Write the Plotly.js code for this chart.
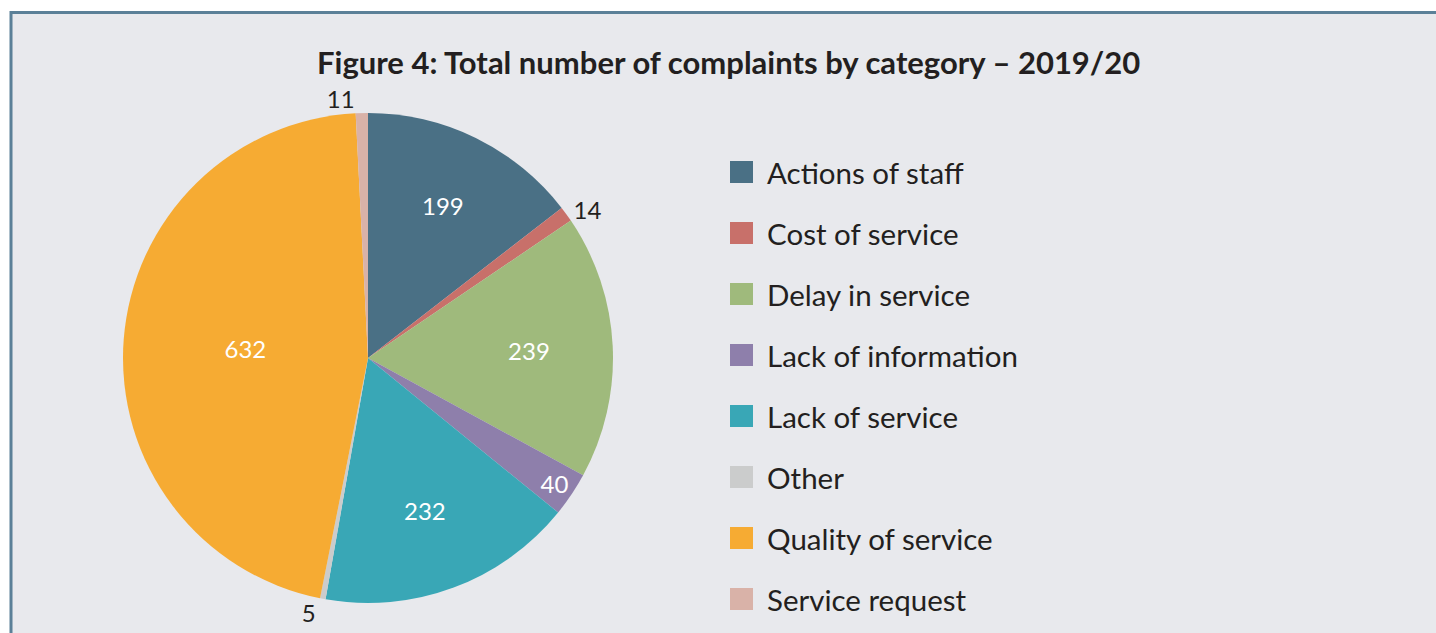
<!DOCTYPE html>
<html>
<head>
<meta charset="utf-8">
<script src="https://cdn.plot.ly/plotly-3.0.1.min.js"></script>
<style>html,body{margin:0;padding:0;background:#fff;}#chart{width:1436px;height:633px;}</style>
</head>
<body>
<div id="chart"></div>
<script>
const categories = ["Actions of staff","Cost of service","Delay in service","Lack of information","Lack of service","Other","Quality of service","Service request"];
const complaints = [199, 14, 239, 40, 232, 5, 632, 11];
const sliceColors = ["#4a7085","#c8706a","#9fba7c","#8e7fab","#39a7b6","#cbcccc","#f6ab33","#d9b2a8"];
const labelPlacement = ["inside","outside","inside","inside","inside","outside","inside","outside"];
const chartTitle = "Figure 4: Total number of complaints by category \u2013 2019/20";

const W = 1436, H = 633;
const px = x => x / W;
const py = y => 1 - y / H;
const FONT = "Lato, 'Open Sans', sans-serif";

const cx = 368, cy = 358, r = 245;

const trace = {
  type: "pie",
  labels: categories,
  values: complaints,
  sort: false,
  direction: "clockwise",
  rotation: 0,
  marker: {colors: sliceColors, line: {width: 0}},
  texttemplate: "%{value}",
  textposition: labelPlacement,
  insidetextorientation: "horizontal",
  insidetextfont: {color: "#ffffff", size: 24, family: FONT},
  outsidetextfont: {color: "#231f20", size: 24, family: FONT},
  domain: {x: [px(cx - r), px(cx + r)], y: [py(cy + r), py(cy - r)]},
  showlegend: false,
  hoverinfo: "label+value"
};

const shapes = [
  {type: "rect", xref: "paper", yref: "paper", x0: px(10), x1: 1, y0: 0, y1: py(11), fillcolor: "#e8e9ed", line: {width: 0}, layer: "below"},
  {type: "line", xref: "paper", yref: "paper", x0: px(11), x1: 1, y0: py(12.5), y1: py(12.5), line: {color: "#5b8098", width: 3}},
  {type: "line", xref: "paper", yref: "paper", x0: px(11), x1: px(11), y0: 0, y1: py(11), line: {color: "#5b8098", width: 3}}
];
const annotations = [
  {xref: "paper", yref: "paper", x: px(728), y: py(62), text: "<b>" + chartTitle + "</b>", showarrow: false, xanchor: "center", yanchor: "middle", font: {family: FONT, size: 31, color: "#231f20"}}
];
categories.forEach((c, i) => {
  const yc = 172 + i * 61;
  shapes.push({type: "rect", xref: "paper", yref: "paper", x0: px(730), x1: px(753), y0: py(yc + 11), y1: py(yc - 11), fillcolor: sliceColors[i], line: {width: 0}});
  annotations.push({xref: "paper", yref: "paper", x: px(765), y: py(yc), text: c, showarrow: false, xanchor: "left", yanchor: "middle", font: {family: FONT, size: 29.5, color: "#231f20"}});
});

const layout = {
  width: W, height: H,
  margin: {l: 0, r: 0, t: 0, b: 0},
  paper_bgcolor: "#ffffff",
  showlegend: false,
  uniformtext: {mode: "show", minsize: 24},
  shapes: shapes,
  annotations: annotations,
  font: {family: FONT}
};

Plotly.newPlot("chart", [trace], layout, {displayModeBar: false, staticPlot: true});
</script>
</body>
</html>
